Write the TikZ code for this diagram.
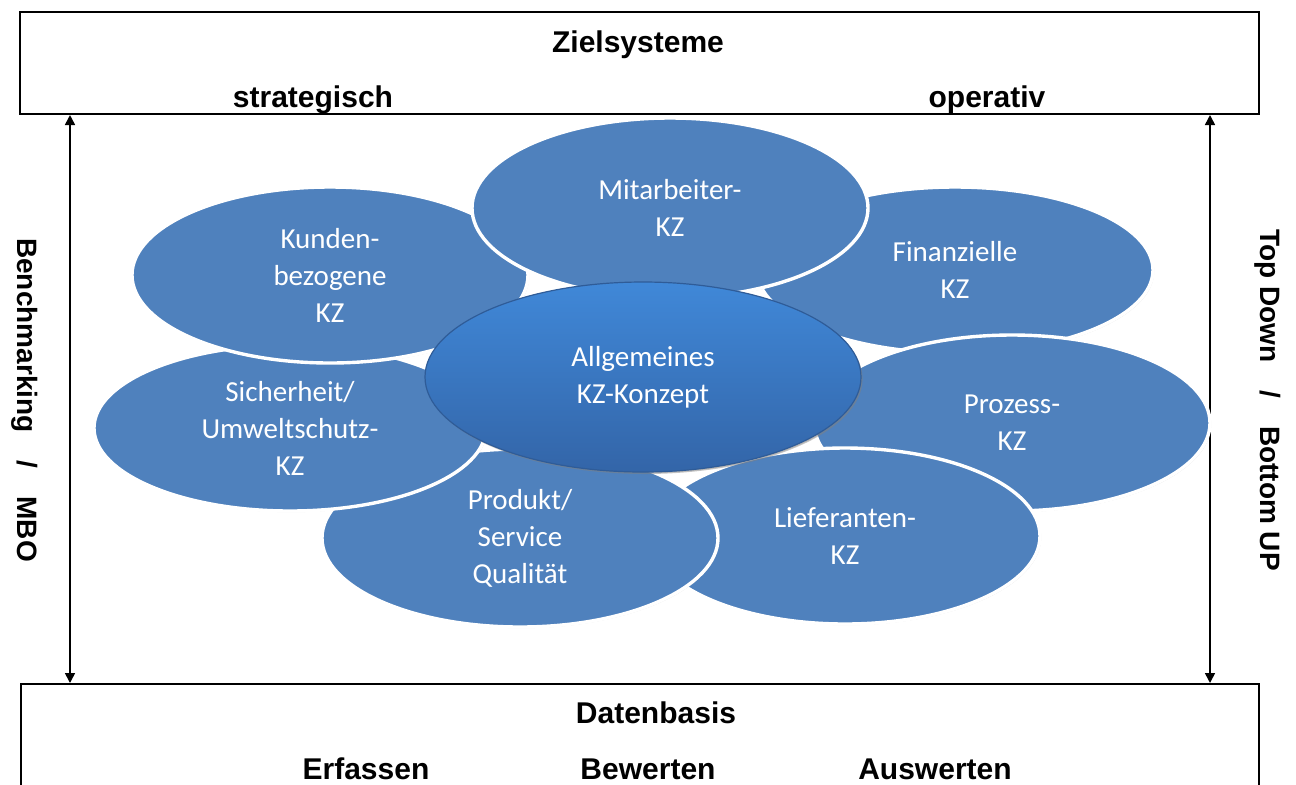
\documentclass[tikz,border=0pt]{standalone}
\usepackage{fontspec}
\setmainfont{Liberation Sans}
\newfontfamily\kzfont{Carlito}
\usetikzlibrary{shapes.geometric,shadows,arrows.meta}

\definecolor{kzblau}{HTML}{4F81BD}
\definecolor{kzhell}{HTML}{4088D8}
\definecolor{kzdunkel}{HTML}{3365A8}
\definecolor{kzrand}{HTML}{2F5C98}

\tikzset{
  kzell/.style={ellipse, draw=white, line width=1.7pt, fill=kzblau, text=white,
    align=center, inner sep=0pt, font=\kzfont\fontsize{14.5}{18.5}\selectfont,
    drop shadow={opacity=0.3, shadow xshift=0.6pt, shadow yshift=-0.6pt}},
  zentral/.style={kzell, top color=kzhell, bottom color=kzdunkel, draw=kzrand,
    line width=0.6pt, drop shadow={opacity=0.45, shadow xshift=0.8pt, shadow yshift=-1pt}},
  rahmen/.style={draw, line width=1pt, inner sep=0pt},
  titel/.style={font=\bfseries\fontsize{15}{18}\selectfont},
  seite/.style={font=\bfseries\fontsize{14}{17}\selectfont, rotate=-90},
  pfeil/.style={line width=0.8pt, {Triangle[length=5pt,width=5pt]}-{Triangle[length=5pt,width=5pt]}}
}

\begin{document}
\begin{tikzpicture}[x=0.5pt, y=-0.5pt]
  \useasboundingbox (0,0) rectangle (1296,784);

  % Rahmen oben und unten
  \node[rahmen, minimum width=619.5pt, minimum height=51pt] (ziel) at (639.5,63) {};
  \node[rahmen, minimum width=619pt, minimum height=60pt] (daten) at (640,744) {};

  \node[titel] (zieltxt) at (638,45) {Zielsysteme};
  \node[titel] (strat) at (313,100) {strategisch};
  \node[titel] (oper) at (987,100) {operativ};
  \node[titel] (datentxt) at (656,713) {Datenbasis};
  \node[titel] (erf) at (366,769) {Erfassen};
  \node[titel] (bew) at (648,769) {Bewerten};
  \node[titel] (ausw) at (935,769) {Auswerten};

  % Seitenpfeile
  \coordinate (bm) at (70,400);
  \coordinate (td) at (1210,400);
  \draw[pfeil] (ziel.south -| bm) -- (daten.north -| bm);
  \draw[pfeil] (ziel.south -| td) -- (daten.north -| td);
  \node[seite] (bmtxt) at (25,400) {Benchmarking\quad/\quad MBO};
  \node[seite] (tdtxt) at (1268,400) {Top Down\quad/\quad Bottom UP};

  % Kennzahlen-Ellipsen
  \node[kzell, minimum width=198pt, minimum height=83pt] (fin) at (955,270) {Finanzielle\\KZ};
  \node[kzell, minimum width=198pt, minimum height=88pt] (proz) at (1012,423) {Prozess-\\KZ};
  \node[kzell, minimum width=195pt, minimum height=88pt] (lief) at (845,536) {Lieferanten-\\KZ};
  \node[kzell, minimum width=198pt, minimum height=89pt] (prod) at (520,538) {Produkt/\\Service\\Qualität};
  \node[kzell, minimum width=196pt, minimum height=83pt] (sich) at (290,428) {Sicherheit/\\Umweltschutz-\\KZ};
  \node[kzell, minimum width=198pt, minimum height=88pt] (kund) at (330,275) {Kunden-\\bezogene\\KZ};
  \node[kzell, minimum width=198pt, minimum height=90pt] (mit) at (670,208) {Mitarbeiter-\\KZ};
  \node[zentral, minimum width=218pt, minimum height=95pt] (zentrum) at (643,377) {Allgemeines\\KZ-Konzept};
\end{tikzpicture}
\end{document}
